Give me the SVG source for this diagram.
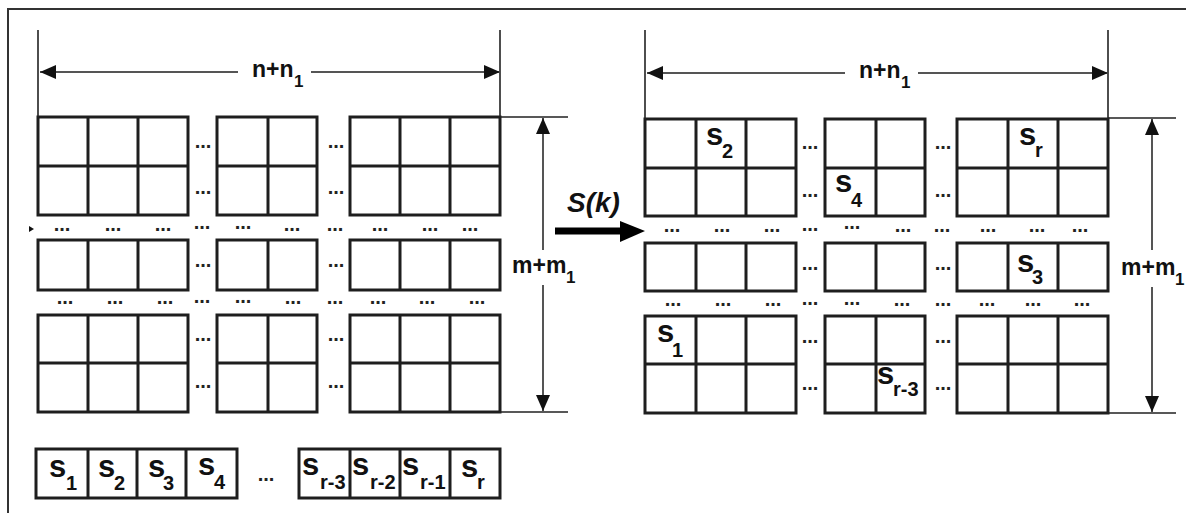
<svg xmlns="http://www.w3.org/2000/svg" width="1186" height="513" viewBox="0 0 1186 513">
<style>
.cell{fill:#fff;stroke:#1e1e1e;stroke-width:3}
.in{stroke:#1e1e1e;stroke-width:3;fill:none}
.dim{stroke:#555;stroke-width:2;fill:none}
.ext{stroke:#222;stroke-width:1.6;fill:none}
.d{font-family:"Liberation Sans",Arial,sans-serif;font-weight:bold;font-size:20px;fill:#222;text-anchor:middle}
.s{font-family:"Liberation Sans",Arial,sans-serif;font-weight:bold;font-size:31px;fill:#111}
.sub{font-size:20px}
.lab{font-family:"Liberation Sans",Arial,sans-serif;font-weight:bold;font-size:23px;fill:#111}
.lsub{font-size:17px}
</style>
<defs>
<marker id="ah" markerUnits="userSpaceOnUse" markerWidth="17" markerHeight="14" refX="16" refY="7" orient="auto">
<path d="M0,0 L16,7 L0,14 Z" fill="#111"/>
</marker>
</defs>
<rect width="1186" height="513" fill="#fff"/>
<path d="M8,513 L8,9 L1186,9" fill="none" stroke="#333" stroke-width="2"/>

<g id="left-matrix">
<rect class="cell" x="38" y="117" width="150" height="98"/><path class="in" d="M88,117V215M138,117V215M38,166H188"/>
<rect class="cell" x="217" y="117" width="100" height="98"/><path class="in" d="M268,117V215M217,166H317"/>
<rect class="cell" x="350" y="117" width="150" height="98"/><path class="in" d="M400,117V215M450,117V215M350,166H500"/>
<rect class="cell" x="38" y="240" width="150" height="50"/><path class="in" d="M88,240V290M138,240V290"/>
<rect class="cell" x="217" y="240" width="100" height="50"/><path class="in" d="M268,240V290"/>
<rect class="cell" x="350" y="240" width="150" height="50"/><path class="in" d="M400,240V290M450,240V290"/>
<rect class="cell" x="38" y="315" width="150" height="97"/><path class="in" d="M88,315V412M138,315V412M38,363H188"/>
<rect class="cell" x="217" y="315" width="100" height="97"/><path class="in" d="M268,315V412M217,363H317"/>
<rect class="cell" x="350" y="315" width="150" height="97"/><path class="in" d="M400,315V412M450,315V412M350,363H500"/>
<polygon points="29,226 34,229 29,232" fill="#111"/>
<text class="d" x="203" y="148">...</text><text class="d" x="203" y="194">...</text><text class="d" x="203" y="267">...</text><text class="d" x="203" y="341">...</text><text class="d" x="203" y="388">...</text>
<text class="d" x="336" y="148">...</text><text class="d" x="336" y="194">...</text><text class="d" x="336" y="267">...</text><text class="d" x="336" y="341">...</text><text class="d" x="336" y="388">...</text>
<text class="d" x="62" y="231">...</text><text class="d" x="113" y="231">...</text><text class="d" x="163" y="231">...</text><text class="d" x="202" y="229">...</text><text class="d" x="243" y="229">...</text><text class="d" x="292" y="231">...</text><text class="d" x="335" y="231">...</text><text class="d" x="380" y="231">...</text><text class="d" x="430" y="231">...</text><text class="d" x="470" y="231">...</text>
<text class="d" x="65" y="304">...</text><text class="d" x="115" y="304">...</text><text class="d" x="165" y="304">...</text><text class="d" x="202" y="303">...</text><text class="d" x="243" y="303">...</text><text class="d" x="293" y="304">...</text><text class="d" x="335" y="304">...</text><text class="d" x="378" y="304">...</text><text class="d" x="427" y="304">...</text><text class="d" x="477" y="304">...</text>
</g>

<g id="right-matrix">
<rect class="cell" x="645" y="119" width="151" height="97"/><path class="in" d="M696,119V216M746,119V216M645,168H796"/>
<rect class="cell" x="825" y="119" width="100" height="97"/><path class="in" d="M876,119V216M825,168H925"/>
<rect class="cell" x="957" y="119" width="151" height="97"/><path class="in" d="M1008,119V216M1058,119V216M957,168H1108"/>
<rect class="cell" x="645" y="243" width="151" height="48"/><path class="in" d="M696,243V291M746,243V291"/>
<rect class="cell" x="825" y="243" width="100" height="48"/><path class="in" d="M876,243V291"/>
<rect class="cell" x="957" y="243" width="151" height="48"/><path class="in" d="M1008,243V291M1058,243V291"/>
<rect class="cell" x="645" y="316" width="151" height="97"/><path class="in" d="M696,316V413M746,316V413M645,364H796"/>
<rect class="cell" x="825" y="316" width="100" height="97"/><path class="in" d="M876,316V413M825,364H925"/>
<rect class="cell" x="957" y="316" width="151" height="97"/><path class="in" d="M1008,316V413M1058,316V413M957,364H1108"/>
<text class="d" x="810" y="149">...</text><text class="d" x="810" y="197">...</text><text class="d" x="810" y="270">...</text><text class="d" x="810" y="343">...</text><text class="d" x="810" y="390">...</text>
<text class="d" x="943" y="149">...</text><text class="d" x="943" y="197">...</text><text class="d" x="943" y="270">...</text><text class="d" x="943" y="343">...</text><text class="d" x="943" y="390">...</text>
<text class="d" x="672" y="232">...</text><text class="d" x="722" y="232">...</text><text class="d" x="772" y="232">...</text><text class="d" x="810" y="231">...</text><text class="d" x="852" y="229">...</text><text class="d" x="903" y="232">...</text><text class="d" x="942" y="232">...</text><text class="d" x="988" y="232">...</text><text class="d" x="1037" y="232">...</text><text class="d" x="1080" y="232">...</text>
<text class="d" x="673" y="306">...</text><text class="d" x="723" y="306">...</text><text class="d" x="773" y="306">...</text><text class="d" x="810" y="305">...</text><text class="d" x="852" y="305">...</text><text class="d" x="902" y="306">...</text><text class="d" x="943" y="306">...</text><text class="d" x="987" y="306">...</text><text class="d" x="1033" y="306">...</text><text class="d" x="1082" y="306">...</text>
<text class="s" x="706" y="145">s<tspan class="sub" x="722" y="158">2</tspan></text>
<text class="s" x="835" y="192">s<tspan class="sub" x="851" y="207">4</tspan></text>
<text class="s" x="1019" y="145">s<tspan class="sub" x="1035" y="157">r</tspan></text>
<text class="s" x="1017" y="272">s<tspan class="sub" x="1032" y="284">3</tspan></text>
<text class="s" x="657" y="342">s<tspan class="sub" x="672" y="357">1</tspan></text>
<text class="s" x="877" y="384">s<tspan class="sub" x="893" y="396">r-3</tspan></text>
</g>

<g id="sequence">
<rect class="cell" x="36" y="449" width="201" height="49"/><path class="in" d="M88,449V498M137,449V498M186,449V498"/>
<rect class="cell" x="299" y="449" width="201" height="49"/><path class="in" d="M350,449V498M400,449V498M450,449V498"/>
<text class="d" x="266" y="481">...</text>
<text class="s" x="49" y="477">s<tspan class="sub" x="66" y="490">1</tspan></text>
<text class="s" x="98" y="477">s<tspan class="sub" x="114" y="490">2</tspan></text>
<text class="s" x="148" y="477">s<tspan class="sub" x="163" y="490">3</tspan></text>
<text class="s" x="198" y="475">s<tspan class="sub" x="214" y="489">4</tspan></text>
<text class="s" x="302" y="475">s<tspan class="sub" x="320" y="489">r-3</tspan></text>
<text class="s" x="352" y="475">s<tspan class="sub" x="370" y="489">r-2</tspan></text>
<text class="s" x="402" y="475">s<tspan class="sub" x="420" y="489">r-1</tspan></text>
<text class="s" x="461" y="477">s<tspan class="sub" x="477" y="489">r</tspan></text>
</g>

<g id="connectors">
<path class="ext" d="M38,30V117M500,30V117M500,117H568M500,412H568"/>
<path class="dim" d="M238,72H40" marker-end="url(#ah)"/>
<path class="dim" d="M311,72H500" marker-end="url(#ah)"/>
<path class="dim" d="M543,250V118" marker-end="url(#ah)"/>
<path class="dim" d="M543,285V411" marker-end="url(#ah)"/>
<path class="ext" d="M645,30V119M1108,30V119M1108,118H1176M1108,413H1176"/>
<path class="dim" d="M845,73H647" marker-end="url(#ah)"/>
<path class="dim" d="M918,73H1108" marker-end="url(#ah)"/>
<path class="dim" d="M1152,250V119" marker-end="url(#ah)"/>
<path class="dim" d="M1152,287V412" marker-end="url(#ah)"/>
<path d="M555,231H624" stroke="#000" stroke-width="7"/>
<polygon points="620,221 645,231 620,242" fill="#000"/>
</g>

<g id="labels">
<text class="lab" x="252" y="77">n+n<tspan class="lsub" x="294" y="87">1</tspan></text>
<text class="lab" x="859" y="78">n+n<tspan class="lsub" x="901" y="88">1</tspan></text>
<text class="lab" x="512" y="273">m+m<tspan class="lsub" x="566" y="283">1</tspan></text>
<text class="lab" x="1121" y="275">m+m<tspan class="lsub" x="1175" y="285">1</tspan></text>
<text x="567" y="212" font-family="'Liberation Sans',Arial,sans-serif" font-weight="bold" font-style="italic" font-size="28" fill="#111">S(k)</text>
</g>
</svg>
